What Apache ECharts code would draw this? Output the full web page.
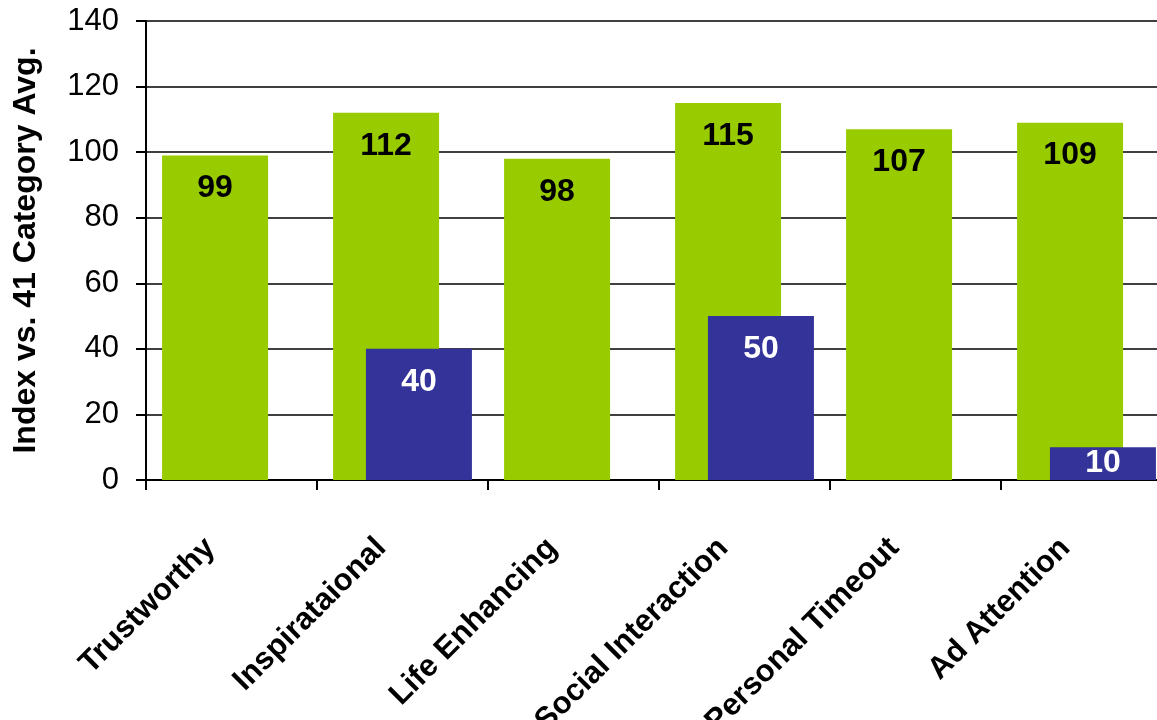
<!DOCTYPE html>
<html>
<head>
<meta charset="utf-8">
<script src="https://cdn.jsdelivr.net/npm/echarts@6/dist/echarts.min.js"></script>
<style>
html,body{margin:0;padding:0;background:#fff;}
#chart{width:1157px;height:720px;}
</style>
</head>
<body>
<div id="chart"></div>
<script>
const categories = ['Trustworthy', 'Inspirataional', 'Life Enhancing', 'Social Interaction', 'Personal Timeout', 'Ad Attention'];
const greenValues = [99, 112, 98, 115, 107, 109];
const blueValues = [null, 40, null, 50, null, 10];
const yTicks = { min: 0, max: 140, interval: 20 };
const yAxisTitle = 'Index vs. 41 Category Avg.';

const FONT = '"Liberation Sans", Arial, sans-serif';
const chart = echarts.init(document.getElementById('chart'), null, { renderer: 'canvas' });

const blueData = blueValues.map(v => {
  if (v == null) return '-';
  // short bars: keep label inside
  if (v < 20) return { value: v, label: { position: 'inside' } };
  return v;
});

chart.setOption({
  animation: false,
  backgroundColor: '#ffffff',
  grid: { left: 146, right: -15, top: 21, bottom: 240, containLabel: false, outerBoundsMode: 'none' },
  xAxis: {
    type: 'category',
    data: categories,
    axisLine: { lineStyle: { color: '#000', width: 2 } },
    axisTick: { show: true, length: 10, lineStyle: { color: '#000', width: 2 } },
    axisLabel: {
      rotate: 45, margin: 42, color: '#000', fontFamily: FONT,
      fontSize: 31, fontWeight: 'bold', interval: 0, padding: [0, 30, 0, 0]
    },
    splitLine: { show: false }
  },
  yAxis: {
    type: 'value',
    min: yTicks.min, max: yTicks.max, interval: yTicks.interval,
    name: yAxisTitle,
    nameLocation: 'middle',
    nameGap: 104,
    nameRotate: 90,
    nameTextStyle: { color: '#000', fontFamily: FONT, fontSize: 32, fontWeight: 'bold' },
    axisLine: { show: true, lineStyle: { color: '#000', width: 2 } },
    axisTick: { show: true, length: 10, lineStyle: { color: '#000', width: 2 } },
    axisLabel: { color: '#000', fontFamily: FONT, fontSize: 31, margin: 27 },
    splitLine: { show: true, lineStyle: { color: '#000', width: 1.5 } }
  },
  series: [
    {
      type: 'bar',
      data: greenValues,
      barWidth: 106,
      barGap: '-69%',
      itemStyle: { color: '#99CC00' },
      label: {
        show: true, position: 'insideTop', distance: 17,
        color: '#000', fontFamily: FONT, fontSize: 32, fontWeight: 'bold'
      }
    },
    {
      type: 'bar',
      data: blueData,
      barWidth: 106,
      barGap: '-69%',
      itemStyle: { color: '#333399' },
      label: {
        show: true, position: 'insideTop', distance: 17,
        color: '#fff', fontFamily: FONT, fontSize: 32, fontWeight: 'bold'
      }
    }
  ]
});
</script>
</body>
</html>
